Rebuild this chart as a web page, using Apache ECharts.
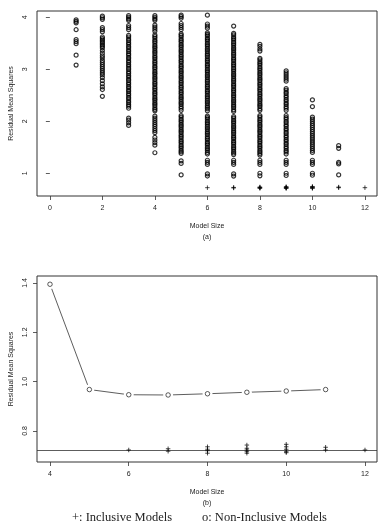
<!DOCTYPE html>
<html>
<head>
<meta charset="utf-8">
<title>Residual Mean Squares vs Model Size</title>
<script src="https://cdn.jsdelivr.net/npm/echarts@6/dist/echarts.min.js"></script>
<style>
  html, body { margin: 0; padding: 0; background: #fff; }
  #chart { width: 382px; height: 526px; }
</style>
</head>
<body>
<div id="chart"></div>
<script>
// 非包含模型的残差均方 (按模型大小)
const rmsSize1 = [3.95, 3.92, 3.89, 3.76, 3.57, 3.53, 3.49, 3.27, 3.08]
const rmsSize2 = [4.02, 3.99, 3.96, 3.80, 3.76, 3.72, 3.62, 3.59, 3.56, 3.53, 3.50, 3.47, 3.44, 3.41,
  3.36, 3.31, 3.26, 3.22, 3.17, 3.13, 3.09, 3.05, 3.01, 2.97, 2.93, 2.89, 2.84, 2.78, 2.72, 2.66, 2.61, 2.48]
const rmsSize3 = [4.03, 4.00, 3.97, 3.94, 3.84, 3.80, 3.76, 3.65, 3.62, 3.58, 3.55, 3.51, 3.48, 3.44,
  3.41, 3.37, 3.34, 3.30, 3.27, 3.23, 3.20, 3.16, 3.13, 3.09, 3.06, 3.02, 2.99, 2.95, 2.92, 2.88, 2.85,
  2.81, 2.78, 2.74, 2.71, 2.67, 2.64, 2.60, 2.57, 2.53, 2.50, 2.46, 2.43, 2.39, 2.36, 2.32, 2.29, 2.25,
  2.06, 2.02, 1.97, 1.92]
const rmsSize4 = [4.03, 4.00, 3.97, 3.94, 3.85, 3.81, 3.77, 3.73, 3.66, 3.63, 3.60, 3.56, 3.53, 3.50,
  3.46, 3.43, 3.40, 3.36, 3.33, 3.30, 3.26, 3.23, 3.20, 3.16, 3.13, 3.10, 3.06, 3.03, 3.00, 2.96, 2.93,
  2.90, 2.86, 2.83, 2.80, 2.76, 2.73, 2.70, 2.66, 2.63, 2.60, 2.56, 2.53, 2.50, 2.46, 2.43, 2.40, 2.36,
  2.33, 2.30, 2.26, 2.23, 2.20, 2.10, 2.06, 2.02, 1.98, 1.94, 1.90, 1.86, 1.82, 1.78, 1.69, 1.64, 1.59,
  1.54, 1.395]
const rmsSize5 = [4.04, 4.01, 3.98, 3.88, 3.84, 3.80, 3.76, 3.68, 3.65, 3.62, 3.58, 3.55, 3.52, 3.48,
  3.45, 3.42, 3.38, 3.35, 3.32, 3.28, 3.25, 3.22, 3.18, 3.15, 3.12, 3.08, 3.05, 3.02, 2.98, 2.95, 2.92,
  2.88, 2.85, 2.82, 2.78, 2.75, 2.72, 2.68, 2.65, 2.62, 2.58, 2.55, 2.52, 2.48, 2.45, 2.42, 2.38, 2.35,
  2.32, 2.28, 2.25, 2.21, 2.11, 2.08, 2.04, 2.01, 1.98, 1.94, 1.91, 1.88, 1.84, 1.81, 1.78, 1.74, 1.71,
  1.68, 1.64, 1.61, 1.58, 1.54, 1.51, 1.48, 1.44, 1.41, 1.38, 1.24, 1.19, 0.968]
const rmsSize6 = [4.04, 3.87, 3.83, 3.79, 3.70, 3.67, 3.64, 3.60, 3.57, 3.54, 3.50, 3.47, 3.44, 3.40,
  3.37, 3.34, 3.30, 3.27, 3.24, 3.20, 3.17, 3.14, 3.10, 3.07, 3.04, 3.00, 2.97, 2.94, 2.90, 2.87, 2.84,
  2.80, 2.77, 2.74, 2.70, 2.67, 2.64, 2.60, 2.57, 2.54, 2.50, 2.47, 2.44, 2.40, 2.37, 2.34, 2.30, 2.27,
  2.24, 2.20, 2.10, 2.07, 2.04, 2.00, 1.97, 1.94, 1.90, 1.87, 1.84, 1.80, 1.77, 1.74, 1.70, 1.67, 1.64,
  1.60, 1.57, 1.54, 1.50, 1.47, 1.44, 1.40, 1.37, 1.25, 1.21, 1.17, 0.99, 0.947]
const rmsSize7 = [3.83, 3.69, 3.66, 3.62, 3.59, 3.56, 3.52, 3.49, 3.46, 3.42, 3.39, 3.36, 3.32, 3.29,
  3.26, 3.22, 3.19, 3.16, 3.12, 3.09, 3.06, 3.02, 2.99, 2.96, 2.92, 2.89, 2.86, 2.82, 2.79, 2.76, 2.72,
  2.69, 2.66, 2.62, 2.59, 2.56, 2.52, 2.49, 2.46, 2.42, 2.39, 2.36, 2.32, 2.29, 2.26, 2.22, 2.19, 2.09,
  2.06, 2.02, 1.99, 1.96, 1.92, 1.89, 1.86, 1.82, 1.79, 1.76, 1.72, 1.69, 1.66, 1.62, 1.59, 1.56, 1.52,
  1.49, 1.46, 1.42, 1.39, 1.36, 1.25, 1.21, 1.17, 0.99, 0.946]
const rmsSize8 = [3.48, 3.44, 3.39, 3.35, 3.21, 3.18, 3.14, 3.11, 3.08, 3.04, 3.01, 2.98, 2.94, 2.91,
  2.88, 2.84, 2.81, 2.78, 2.74, 2.71, 2.68, 2.64, 2.61, 2.58, 2.54, 2.51, 2.48, 2.44, 2.41, 2.38, 2.34,
  2.31, 2.28, 2.24, 2.21, 2.11, 2.08, 2.04, 2.01, 1.98, 1.94, 1.91, 1.88, 1.84, 1.81, 1.78, 1.74, 1.71,
  1.68, 1.64, 1.61, 1.58, 1.54, 1.51, 1.48, 1.44, 1.41, 1.38, 1.35, 1.25, 1.21, 1.17, 1.00, 0.951]
const rmsSize9 = [2.97, 2.93, 2.89, 2.85, 2.81, 2.77, 2.63, 2.60, 2.56, 2.53, 2.49, 2.46, 2.42, 2.39,
  2.35, 2.32, 2.28, 2.25, 2.21, 2.11, 2.07, 2.04, 2.00, 1.97, 1.93, 1.90, 1.86, 1.83, 1.79, 1.76, 1.72,
  1.69, 1.65, 1.62, 1.58, 1.55, 1.51, 1.48, 1.44, 1.41, 1.37, 1.25, 1.21, 1.17, 1.00, 0.957]
const rmsSize10 = [2.41, 2.28, 2.08, 2.04, 2.00, 1.96, 1.92, 1.88, 1.84, 1.80, 1.76, 1.72, 1.68, 1.64,
  1.60, 1.56, 1.52, 1.48, 1.44, 1.40, 1.25, 1.21, 1.17, 1.00, 0.962]
const rmsSize11 = [1.53, 1.48, 1.21, 1.18, 0.968]

// 包含模型的残差均方
const inclSize6 = [0.723]
const inclSize7 = [0.728, 0.718]
const inclSize8 = [0.736, 0.726, 0.720, 0.710]
const inclSize9 = [0.743, 0.730, 0.723, 0.716, 0.710]
const inclSize10 = [0.746, 0.736, 0.726, 0.716, 0.712]
const inclSize11 = [0.734, 0.723]
const inclSize12 = [0.723]

// 全模型的残差均方 (水平参考线)
const fullModelRms = 0.723

const topXTicks = [0, 2, 4, 6, 8, 10, 12]
const topYTicks = [1, 2, 3, 4]
const bottomXTicks = [4, 6, 8, 10, 12]
const bottomYTicks = [0.8, 1.0, 1.2, 1.4]

const nonInclusiveCols = [
  [1, rmsSize1], [2, rmsSize2], [3, rmsSize3], [4, rmsSize4], [5, rmsSize5], [6, rmsSize6],
  [7, rmsSize7], [8, rmsSize8], [9, rmsSize9], [10, rmsSize10], [11, rmsSize11]
]
const inclusiveCols = [
  [6, inclSize6], [7, inclSize7], [8, inclSize8], [9, inclSize9],
  [10, inclSize10], [11, inclSize11], [12, inclSize12]
]

function toPoints(cols) {
  const pts = []
  cols.forEach(([size, vals]) => vals.forEach(v => pts.push([size, v])))
  return pts
}

// 图 (b): 每个模型大小下非包含模型的最小值
const minNonInclusive = nonInclusiveCols
  .filter(([size]) => size >= 4)
  .map(([size, vals]) => [size, Math.min(...vals)])

const FONT = '"Liberation Sans", Arial, sans-serif'
const TEXT = '#222'
const INK = '#333'

const plusSymbol = 'path://M5,0 L5,10 M0,5 L10,5'
const openCircle = { color: 'rgba(0,0,0,0)', borderColor: '#000', borderWidth: 1.2 }
const plusStyle = { color: 'rgba(0,0,0,0)', borderColor: '#000', borderWidth: 0.9 }

function xAxisOf(gridIndex, min, max, ticks, name) {
  return {
    type: 'value',
    gridIndex,
    min,
    max,
    name,
    nameLocation: 'middle',
    nameGap: 25,
    nameTextStyle: { fontSize: 7, color: TEXT, fontFamily: FONT, lineHeight: 11 },
    axisLine: { show: false },
    axisTick: { show: true, length: 4, customValues: ticks, lineStyle: { color: INK, width: 0.8 } },
    axisLabel: { customValues: ticks, fontSize: 7, color: TEXT, fontFamily: FONT, margin: 9 },
    splitLine: { show: false }
  }
}

function yAxisOf(gridIndex, min, max, ticks, fmt) {
  return {
    type: 'value',
    gridIndex,
    min,
    max,
    name: 'Residual Mean Squares',
    nameLocation: 'middle',
    nameRotate: 90,
    nameGap: 22,
    nameTextStyle: { fontSize: 7, color: TEXT, fontFamily: FONT },
    axisLine: { show: false },
    axisTick: { show: true, length: 4, customValues: ticks, lineStyle: { color: INK, width: 0.8 } },
    axisLabel: {
      customValues: ticks,
      rotate: 90,
      fontSize: 7,
      color: TEXT,
      fontFamily: FONT,
      margin: 8,
      formatter: fmt
    },
    splitLine: { show: false }
  }
}

const chart = echarts.init(document.getElementById('chart'), null, { renderer: 'canvas' })

const gridBase = {
  left: 37,
  right: 5,
  show: true,
  borderColor: INK,
  borderWidth: 1,
  backgroundColor: 'transparent',
  containLabel: false,
  outerBoundsMode: 'none'
}

const option = {
  animation: false,
  backgroundColor: '#fff',
  grid: [
    Object.assign({}, gridBase, { top: 11, bottom: 330 }),
    Object.assign({}, gridBase, { top: 276, bottom: 64 })
  ],
  xAxis: [
    xAxisOf(0, -0.49, 12.46, topXTicks, 'Model Size\n(a)'),
    xAxisOf(1, 3.67, 12.305, bottomXTicks, 'Model Size\n(b)')
  ],
  yAxis: [
    yAxisOf(0, 0.563, 4.12, topYTicks, v => String(v)),
    yAxisOf(1, 0.6743, 1.4284, bottomYTicks, v => v.toFixed(1))
  ],
  series: [
    {
      type: 'scatter',
      xAxisIndex: 0,
      yAxisIndex: 0,
      silent: true,
      symbol: 'circle',
      symbolSize: 4,
      itemStyle: openCircle,
      data: toPoints(nonInclusiveCols)
    },
    {
      type: 'scatter',
      xAxisIndex: 0,
      yAxisIndex: 0,
      silent: true,
      symbol: plusSymbol,
      symbolSize: 4.5,
      itemStyle: plusStyle,
      data: toPoints(inclusiveCols)
    },
    {
      // 折线 + 白色底圆，模拟 type="b" 的断开效果
      type: 'line',
      xAxisIndex: 1,
      yAxisIndex: 1,
      silent: true,
      z: 2,
      symbol: 'circle',
      symbolSize: 10,
      showAllSymbol: true,
      itemStyle: { color: '#fff', borderWidth: 0 },
      lineStyle: { color: INK, width: 0.8 },
      data: minNonInclusive
    },
    {
      type: 'scatter',
      xAxisIndex: 1,
      yAxisIndex: 1,
      silent: true,
      z: 5,
      symbol: 'circle',
      symbolSize: 4.5,
      itemStyle: { color: 'rgba(0,0,0,0)', borderColor: '#000', borderWidth: 0.8 },
      data: minNonInclusive
    },
    {
      type: 'scatter',
      xAxisIndex: 1,
      yAxisIndex: 1,
      silent: true,
      z: 5,
      symbol: plusSymbol,
      symbolSize: 4.5,
      itemStyle: plusStyle,
      data: toPoints(inclusiveCols),
      markLine: {
        silent: true,
        symbol: 'none',
        label: { show: false },
        lineStyle: { color: INK, type: 'solid', width: 0.8 },
        data: [{ yAxis: fullModelRms }]
      }
    }
  ],
  graphic: [
    {
      type: 'text',
      x: 72,
      y: 518,
      silent: true,
      style: { text: '+: Inclusive Models', font: '12.5px "Liberation Serif", serif', fill: TEXT, verticalAlign: 'middle' }
    },
    {
      type: 'text',
      x: 202,
      y: 518,
      silent: true,
      style: { text: 'o: Non-Inclusive Models', font: '12.5px "Liberation Serif", serif', fill: TEXT, verticalAlign: 'middle' }
    }
  ]
}

chart.setOption(option)
</script>
</body>
</html>
